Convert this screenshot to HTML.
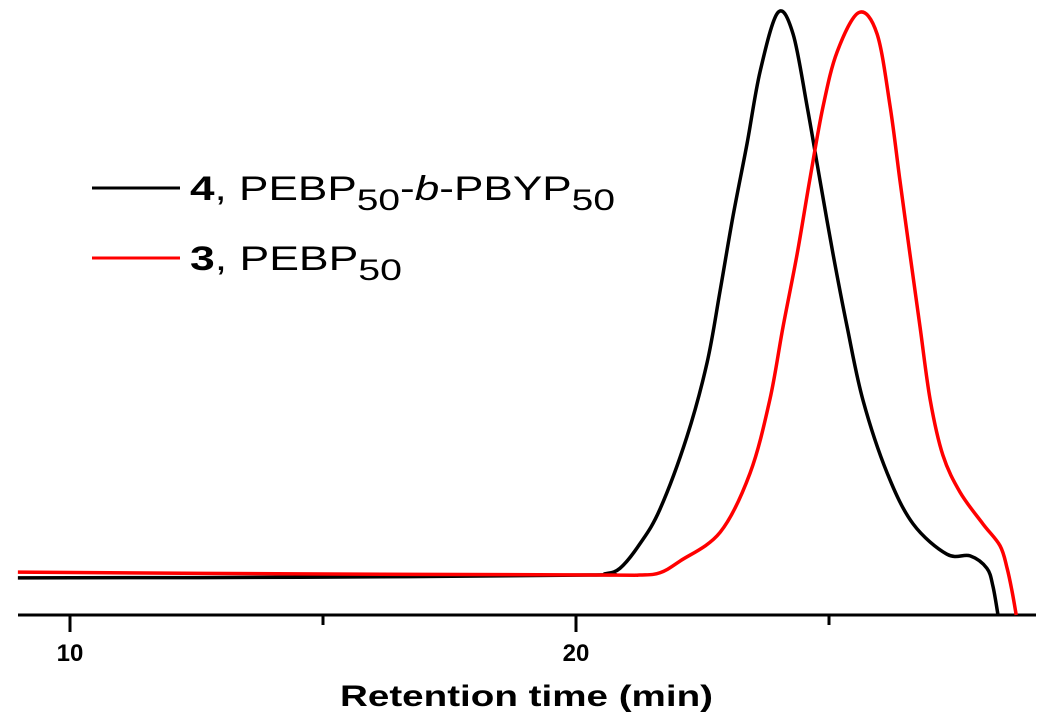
<!DOCTYPE html>
<html><head><meta charset="utf-8"><style>
html,body{margin:0;padding:0;background:#fff;}
svg{display:block;font-family:"Liberation Sans",sans-serif;}
</style></head><body>
<svg id="chart" width="1050" height="719">
<g id="axis"></g>
<g id="series"></g>
<g>
 <line x1="92" y1="188" x2="180" y2="188" stroke="#000" stroke-width="3"/>
 <text x="190" y="200" font-size="34" textLength="425" lengthAdjust="spacingAndGlyphs"><tspan font-weight="bold">4</tspan>, PEBP<tspan font-size="30" dy="10">50</tspan><tspan dy="-10">-</tspan><tspan font-style="italic">b</tspan>-PBYP<tspan font-size="30" dy="10">50</tspan></text>
 <line x1="92" y1="258" x2="180" y2="258" stroke="#f00" stroke-width="3"/>
 <text x="190" y="270" font-size="34" textLength="212" lengthAdjust="spacingAndGlyphs"><tspan font-weight="bold">3</tspan>, PEBP<tspan font-size="30" dy="10">50</tspan></text>
</g>
<text x="340" y="706" font-size="30" font-weight="bold" textLength="373" lengthAdjust="spacingAndGlyphs">Retention time (min)</text>
</svg>
<script>
const tBlack=[8.97,14.55,20.28,20.57,20.87,21.26,21.66,22.19,22.59,22.85,23.10,23.38,23.64,23.99,24.29,24.57,24.82,25.08,25.36,25.67,26.15,26.66,27.33,27.79,28.12,28.24,28.34];
const sBlack=[-0.005,-0.004,0,0.002,0.012,0.055,0.117,0.245,0.377,0.506,0.636,0.766,0.895,0.999,0.961,0.831,0.702,0.570,0.440,0.311,0.181,0.091,0.037,0.034,0.012,-0.02,-0.071];
const tRed=[8.97,14.55,20.47,21.26,21.66,22.06,22.85,23.44,23.83,24.09,24.37,24.62,24.88,25.16,25.59,25.95,26.21,26.40,26.60,26.80,27.00,27.25,27.59,28.04,28.38,28.52,28.62,28.70];
const sRed=[0.005,0.002,0,0,0.004,0.025,0.076,0.181,0.311,0.440,0.570,0.702,0.831,0.929,0.999,0.961,0.831,0.702,0.570,0.440,0.311,0.213,0.147,0.091,0.052,0.012,-0.03,-0.071];
const majorTicks=[10,20];
const minorTicks=[15,25];
const X=t=>70+(t-10)*50.6;
const Y=s=>575-s*563;
const NS="http://www.w3.org/2000/svg";
const ax=document.getElementById('axis');
function mk(tag,attrs,parent){const e=document.createElementNS(NS,tag);for(const k in attrs)e.setAttribute(k,attrs[k]);parent.appendChild(e);return e;}
const al=mk('line',{x1:18,y1:615,x2:1036,y2:615,stroke:'#000','stroke-width':3},ax);


majorTicks.forEach(v=>{
 const l=mk('line',{x1:X(v),y1:615,x2:X(v),y2:632,stroke:'#000','stroke-width':3},ax);
 
 
 const t=mk('text',{x:X(v),y:661,'font-size':24,'font-weight':'bold','text-anchor':'middle'},ax);
 t.textContent=v;
 
 
});
minorTicks.forEach(v=>{
 const l=mk('line',{x1:X(v),y1:615,x2:X(v),y2:625,stroke:'#000','stroke-width':3},ax);
 
 
});
function pathD(ts,ss){
 const p=ts.map((t,i)=>[X(t),Y(ss[i])]);
 let d=`M${p[0][0]},${p[0][1]}`;
 for(let i=0;i<p.length-1;i++){
  const p0=p[i-1]||p[i],p1=p[i],p2=p[i+1],p3=p[i+2]||p2;
  const c1=[p1[0]+(p2[0]-p0[0])/6,p1[1]+(p2[1]-p0[1])/6];
  const c2=[p2[0]-(p3[0]-p1[0])/6,p2[1]-(p3[1]-p1[1])/6];
  d+=` C${c1[0]},${c1[1]} ${c2[0]},${c2[1]} ${p2[0]},${p2[1]}`;
 }
 return d;
}
const sg=document.getElementById('series');
const pb=mk('path',{d:pathD(tBlack,sBlack),fill:'none',stroke:'#000','stroke-width':3.5},sg);


const pr=mk('path',{d:pathD(tRed,sRed),fill:'none',stroke:'#f00','stroke-width':3.5},sg);


</script>
</body></html>
